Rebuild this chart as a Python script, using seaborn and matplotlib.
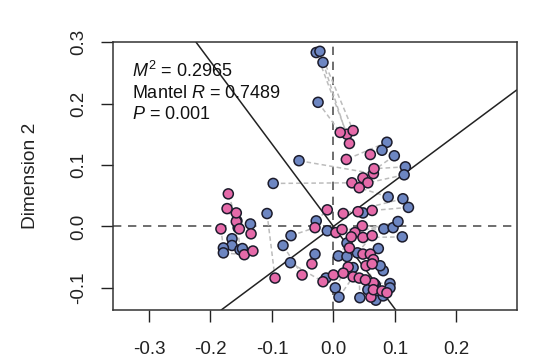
import numpy as np
import pandas as pd
import seaborn as sns
import matplotlib.pyplot as plt

# Procrustes configurations (blue = target, pink = rotated)
blue_x = [-0.028, -0.022, -0.017, -0.025, -0.056, 0.087, 0.079, 0.099, 0.117, 0.115,
          -0.098, 0.089, 0.113, 0.122, 0.048, -0.108, -0.135, -0.028, -0.010, 0.082,
          0.097, 0.105, 0.112, -0.165, -0.165, -0.179, -0.179, -0.152, -0.069, -0.082,
          0.022, 0.039, 0.073, 0.008, 0.022, -0.030, -0.070, 0.032, 0.081, -0.012,
          0.092, 0.068, 0.003, 0.009, 0.043, 0.069, -0.157, -0.155, -0.148, 0.076,
          0.066, 0.056, 0.092, 0.081]
blue_y = [0.283, 0.285, 0.267, 0.202, 0.107, 0.137, 0.124, 0.115, 0.097, 0.084,
          0.070, 0.048, 0.045, 0.031, 0.022, 0.021, 0.004, 0.009, -0.007, -0.004,
          -0.002, 0.008, -0.017, -0.020, -0.031, -0.035, -0.043, -0.038, -0.015, -0.031,
          -0.027, -0.043, -0.036, -0.048, -0.049, -0.045, -0.059, -0.067, -0.072, -0.084,
          -0.093, -0.095, -0.100, -0.115, -0.116, -0.120, 0.009, -0.002, -0.036, -0.064,
          -0.093, -0.103, -0.100, -0.113]
pink_x = [0.022, 0.032, 0.026, 0.011, 0.065, 0.021, 0.060, 0.048, 0.066, 0.056,
          0.030, 0.042, 0.016, 0.040, 0.063, -0.095, -0.134, -0.010, 0.004, 0.014,
          0.047, 0.035, 0.048, -0.158, -0.153, -0.183, -0.145, -0.158, -0.030, -0.051,
          0.026, 0.063, 0.048, 0.029, 0.060, -0.035, -0.017, 0.024, 0.065, 0.000,
          0.065, 0.053, 0.016, 0.032, 0.042, 0.061, -0.171, -0.173, -0.131, 0.063,
          0.052, 0.065, 0.079, 0.087]
pink_y = [0.150, 0.156, 0.135, 0.153, 0.086, 0.109, 0.117, 0.079, 0.094, 0.071,
          0.071, 0.063, 0.021, 0.024, 0.026, -0.084, -0.012, 0.027, -0.010, -0.005,
          0.001, -0.010, -0.018, 0.008, -0.004, -0.004, -0.046, 0.022, -0.002, -0.079,
          -0.035, -0.015, -0.045, -0.017, -0.045, -0.061, -0.090, -0.066, -0.054, -0.079,
          -0.092, -0.064, -0.076, -0.082, -0.084, -0.115, 0.053, 0.029, -0.040, -0.061,
          -0.087, -0.103, -0.105, -0.108]

x_ticks = [-0.3, -0.2, -0.1, 0.0, 0.1, 0.2]
y_ticks = [-0.1, 0.0, 0.1, 0.2, 0.3]
rot_slopes = [0.745, -1.342]
stats_lines = [r"$M^2$ = 0.2965", r"Mantel $R$ = 0.7489", r"$P$ = 0.001"]

df = pd.DataFrame({
    "x": blue_x + pink_x,
    "y": blue_y + pink_y,
    "set": ["target"] * len(blue_x) + ["rotated"] * len(pink_x),
})

sns.set_theme(style="white")
plt.rcParams["font.family"] = ["Liberation Sans", "DejaVu Sans"]
plt.rcParams["mathtext.fontset"] = "custom"
plt.rcParams["mathtext.rm"] = "Liberation Sans"
plt.rcParams["mathtext.it"] = "Liberation Sans:italic"

fig = plt.figure(figsize=(5.35, 3.63), dpi=100)
ax = fig.add_axes([0.2107, 0.146, 0.755, 0.738])

# pair connectors
for bx, by, px, py in zip(blue_x, blue_y, pink_x, pink_y):
    ax.plot([bx, px], [by, py], color="#bcbcbc", lw=1.1, ls=(0, (3, 2)), zorder=1)

# reference and rotation axes
ax.axhline(0, color="#555555", lw=1.2, ls=(0, (5, 4)), zorder=0)
ax.axvline(0, color="#555555", lw=1.2, ls=(0, (5, 4)), zorder=0)
for s in rot_slopes:
    ax.axline((0, 0), slope=s, color="#222222", lw=1.1, zorder=1)

sns.scatterplot(data=df, x="x", y="y", hue="set",
                palette={"target": "#6d86c2", "rotated": "#e56aa9"},
                s=52, edgecolor="#1c1c2c", linewidth=1.1, legend=False,
                zorder=3, ax=ax)

ax.set_xlim(-0.359, 0.298)
ax.set_ylim(-0.136, 0.30)
ax.set_xticks(x_ticks)
ax.set_yticks(y_ticks)
ax.set_xticklabels([f"{t:.1f}" for t in x_ticks])
ax.set_yticklabels([f"{t:.1f}" for t in y_ticks])
ax.tick_params(length=8.5, width=1, labelsize=13.5, colors="#222222",
               direction="out", bottom=True, left=True)
ax.tick_params(axis="x", pad=14)
ax.tick_params(axis="y", pad=10)
for lab in ax.get_yticklabels():
    lab.set_rotation(90)
    lab.set_va("center")
ax.set_xlabel("")
ax.set_ylabel("Dimension 2", fontsize=13.8, color="#222222", labelpad=22)
for sp in ax.spines.values():
    sp.set_color("#333333")
    sp.set_linewidth(1.1)

for i, line in enumerate(stats_lines):
    ax.text(-0.327, 0.2426 - i * 0.0335, line, fontsize=13, color="#111111",
            va="baseline", ha="left", zorder=4)

fig.savefig("out.png", dpi=100)
